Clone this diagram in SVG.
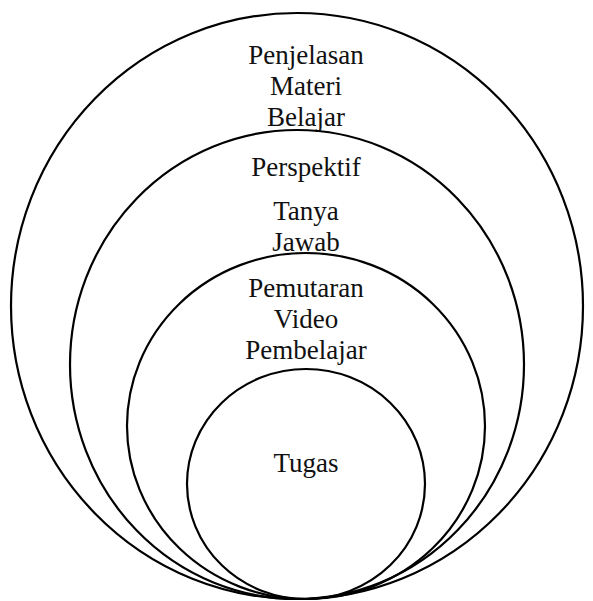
<svg xmlns="http://www.w3.org/2000/svg" width="593" height="601" viewBox="0 0 593 601">
<style>
.c{fill:none;stroke:#000;stroke-width:2.2}
.t{font-family:'Liberation Serif','Times New Roman',serif;font-size:27px;fill:#111;text-anchor:middle}
</style>
<rect width="593" height="601" fill="#fff"/>
<g id="n1"><ellipse class="c" cx="297" cy="306" rx="286" ry="293"/>
<text class="t" x="306" y="64">Penjelasan</text><text class="t" x="306" y="95">Materi</text><text class="t" x="306" y="126">Belajar</text></g>
<g id="n2"><ellipse class="c" cx="297" cy="364.5" rx="227" ry="234.5"/>
<text class="t" x="306" y="176">Perspektif</text><text class="t" x="306" y="220">Tanya</text><text class="t" x="306" y="251">Jawab</text></g>
<g id="n3"><ellipse class="c" cx="306" cy="426" rx="179" ry="173"/>
<text class="t" x="306" y="297">Pemutaran</text><text class="t" x="306" y="328">Video</text><text class="t" x="306" y="359">Pembelajar</text></g>
<g id="n4"><ellipse class="c" cx="306" cy="484" rx="119" ry="115"/>
<text class="t" x="306" y="472">Tugas</text></g>
<g id="connectors"/>
</svg>
